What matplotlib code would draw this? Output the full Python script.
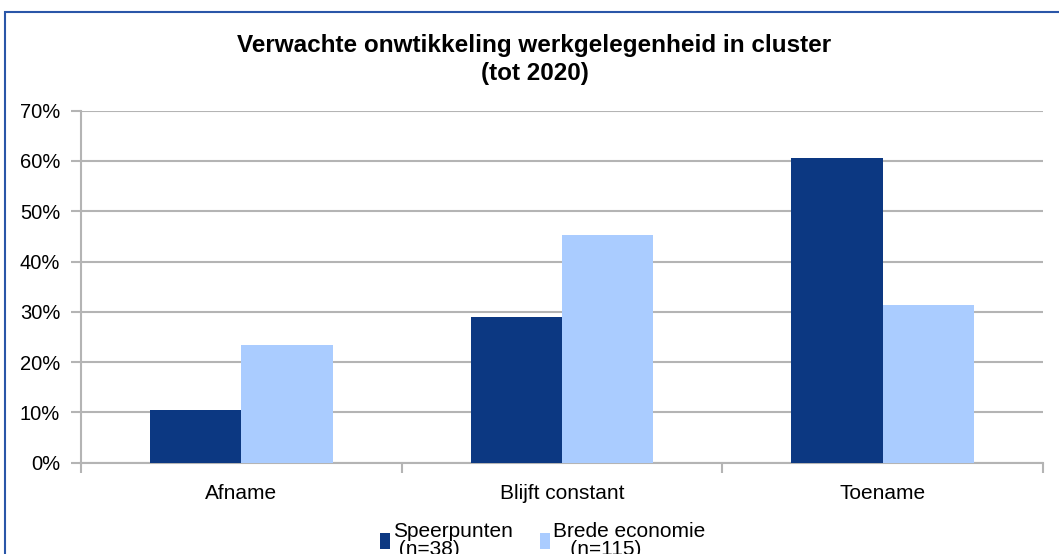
import matplotlib
matplotlib.use("Agg")
import matplotlib.pyplot as plt
import numpy as np
from matplotlib.patches import Rectangle

categories = ["Afname", "Blijft constant", "Toename"]
speerpunten = [10.5, 28.9, 60.5]
brede_economie = [23.5, 45.2, 31.3]
series_labels = ["Speerpunten\n (n=38)", "Brede economie\n   (n=115)"]
yticks = [0, 10, 20, 30, 40, 50, 60, 70]
title = "Verwachte onwtikkeling werkgelegenheid in cluster\n(tot 2020)"

dark = "#0c3882"
light = "#aaccff"
grid_c = "#b4b4b4"

plt.rcParams['font.family'] = ['Liberation Sans', 'DejaVu Sans']

fig = plt.figure(figsize=(10.59, 5.54), dpi=100)
ax = fig.add_axes([81/1059, 1-462.7/554, (1043-81)/1059, (462.7-110.7)/554])

x = np.arange(len(categories))
w = 0.285
ax.bar(x - w/2, speerpunten, w, color=dark, label=series_labels[0], zorder=3)
ax.bar(x + w/2, brede_economie, w, color=light, label=series_labels[1], zorder=3)

ax.set_xlim(-0.5, 2.5)
ax.set_ylim(0, 70)
ax.set_yticks(yticks)
ax.set_yticklabels([f"{v}%" for v in yticks], fontsize=14.5)
ax.set_xticks(x)
ax.set_xticklabels(categories, fontsize=15)
ax.set_xticks([-0.5, 0.5, 1.5, 2.5], minor=True)
ax.tick_params(axis='x', which='major', length=0, pad=15)
ax.tick_params(axis='x', which='minor', length=7, color=grid_c, width=1.5)
ax.tick_params(axis='y', length=7, color=grid_c, width=1.5, pad=8)
ax.yaxis.grid(True, color=grid_c, linewidth=1.5, zorder=0)
for s in ['top', 'right']:
    ax.spines[s].set_visible(False)
for s in ['left', 'bottom']:
    ax.spines[s].set_color(grid_c)
    ax.spines[s].set_linewidth(1.5)

fig.text(534.5/1059, 1-59.5/554, title, ha='center', va='center', fontsize=17.5,
         fontweight='bold', linespacing=1.3)

leg = fig.legend(loc='upper left', bbox_to_anchor=(380/1059, 1-522/554), ncol=2,
                 frameon=False, fontsize=15, handlelength=0.5, handleheight=0.85,
                 handletextpad=0.12, columnspacing=1.3, borderaxespad=0,
                 borderpad=0)
for t in leg.get_texts():
    t.set_linespacing(0.95)

fig.patches.append(Rectangle((5/1059, -0.1), 1.2, (1-12/554)+0.1, transform=fig.transFigure,
                             fill=False, edgecolor="#2a56a8", linewidth=1.5))

fig.savefig("out.png", dpi=100)
